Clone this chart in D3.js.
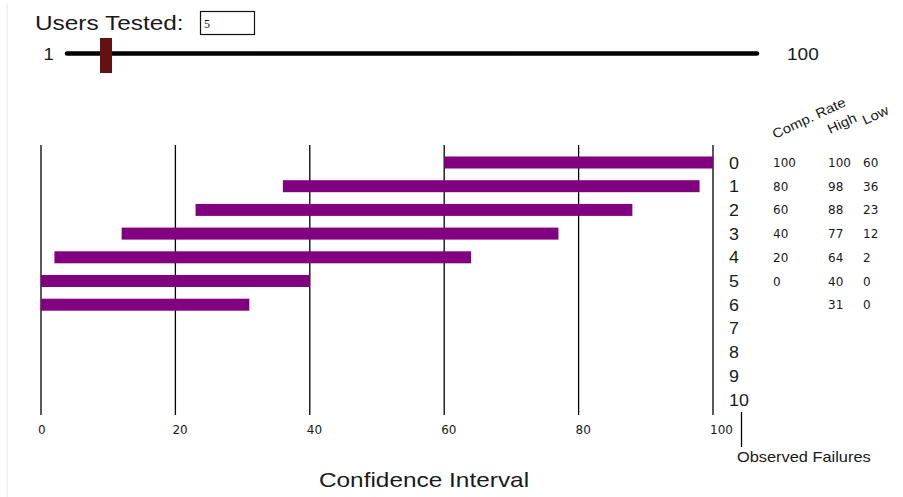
<!DOCTYPE html>
<html>
<head>
<meta charset="utf-8">
<script src="https://cdn.jsdelivr.net/npm/d3@7"></script>
<style>
  html, body { margin: 0; padding: 0; background: #fff; }
  svg { display: block; }
</style>
</head>
<body>
<svg id="chart" width="903" height="497"></svg>
<script>
// Binomial confidence intervals for completion rate, by number of observed failures
const usersTested = 5;
const sliderDomain = [1, 100];
const failures = [0, 1, 2, 3, 4, 5, 6, 7, 8, 9, 10];
const compRate = [100, 80, 60, 40, 20, 0];
const high = [100, 98, 88, 77, 64, 40, 31];
const low = [60, 36, 23, 12, 2, 0, 0];
const xTicks = [0, 20, 40, 60, 80, 100];
const tableHeaders = ["Comp. Rate", "High", "Low"];

const svg = d3.select("#chart");
const SANS = "'Liberation Sans', Arial, sans-serif";
const NUM = "'DejaVu Sans', Verdana, sans-serif";
const INK = "#1a1a1a";

// text helper: allows a slight horizontal stretch of the glyphs
function label(parent, x, y, s, o = {}) {
  return parent.append("text")
    .attr("transform", `translate(${x},${y}) rotate(${o.rotate || 0}) scale(${o.sx || 1},1)`)
    .attr("font-family", o.family || SANS)
    .attr("font-size", o.size || 14)
    .attr("text-anchor", o.anchor || "start")
    .attr("fill", o.fill || INK)
    .text(s);
}

// faint frame edge
svg.append("line").attr("x1", 7).attr("x2", 7).attr("y1", 4).attr("y2", 497)
  .attr("stroke", "#ececec").attr("stroke-width", 1.5);

// ---- slider ----
const slider = svg.append("g");
label(slider, 35, 30, "Users Tested:", { size: 20, sx: 1.22 });
slider.append("rect").attr("x", 200.5).attr("y", 11.5).attr("width", 54).attr("height", 23)
  .attr("fill", "#fff").attr("stroke", "#111").attr("stroke-width", 1.2);
label(slider, 204, 28, String(usersTested), { size: 12, family: "'Liberation Serif', 'Times New Roman', serif" });

const sx = d3.scaleLinear().domain([0, sliderDomain[1]]).range([67, 757]);
label(slider, 54, 60, String(sliderDomain[0]), { size: 17, anchor: "end", sx: 1.1 });
label(slider, 787, 60, String(sliderDomain[1]), { size: 17, sx: 1.12 });
slider.append("line").attr("x1", sx(0)).attr("x2", sx(100)).attr("y1", 53.5).attr("y2", 53.5)
  .attr("stroke", "#000").attr("stroke-width", 4.5).attr("stroke-linecap", "round");
slider.append("rect").attr("x", sx(usersTested) - 1.5).attr("y", 38).attr("width", 12).attr("height", 35)
  .attr("fill", "#661111");

// ---- interval chart ----
const x = d3.scaleLinear().domain([0, 100]).range([41, 713]);
const y = d3.scalePoint().domain(failures).range([162.5, 399.5]);
const gridTop = 145, gridBottom = 415;

const grid = svg.append("g");
grid.selectAll("line").data(xTicks).join("line")
  .attr("x1", d => x(d)).attr("x2", d => x(d))
  .attr("y1", gridTop).attr("y2", gridBottom)
  .attr("stroke", "#000").attr("stroke-width", 1.3);

grid.selectAll("g.tick").data(xTicks).join("g").attr("class", "tick")
  .each(function (d) {
    label(d3.select(this), x(d) - 3, 434, String(d), { size: 12, family: NUM });
  });

const bars = low.map((lo, i) => ({ f: failures[i], lo, hi: high[i] }));
svg.append("g").selectAll("rect").data(bars).join("rect")
  .attr("x", d => x(d.lo))
  .attr("y", d => y(d.f) - 6)
  .attr("width", d => x(d.hi) - x(d.lo))
  .attr("height", 12)
  .attr("fill", "#800080");

// row labels (observed failures)
const rows = svg.append("g");
failures.forEach(f => label(rows, 729, y(f) + 6, String(f), { size: 17, sx: 1.05 }));

// side table
const table = svg.append("g");
const colX = [773, 828, 863];
compRate.forEach((v, i) => label(table, colX[0], y(failures[i]) + 4.5, String(v), { size: 12, family: NUM }));
high.forEach((v, i) => label(table, colX[1], y(failures[i]) + 4.5, String(v), { size: 12, family: NUM }));
low.forEach((v, i) => label(table, colX[2], y(failures[i]) + 4.5, String(v), { size: 12, family: NUM }));

const headPos = [[775, 139], [830, 134], [865, 125]];
tableHeaders.forEach((h, i) => label(table, headPos[i][0], headPos[i][1], h, { size: 13.5, rotate: -25, sx: 1.1 }));

// y-axis stub and titles
svg.append("line").attr("x1", 741.5).attr("x2", 741.5).attr("y1", 412).attr("y2", 447)
  .attr("stroke", "#000").attr("stroke-width", 1.3);
label(svg, 737, 462, "Observed Failures", { size: 14, sx: 1.17 });
label(svg, 424, 487, "Confidence Interval", { size: 20, anchor: "middle", sx: 1.22 });
</script>
</body>
</html>
